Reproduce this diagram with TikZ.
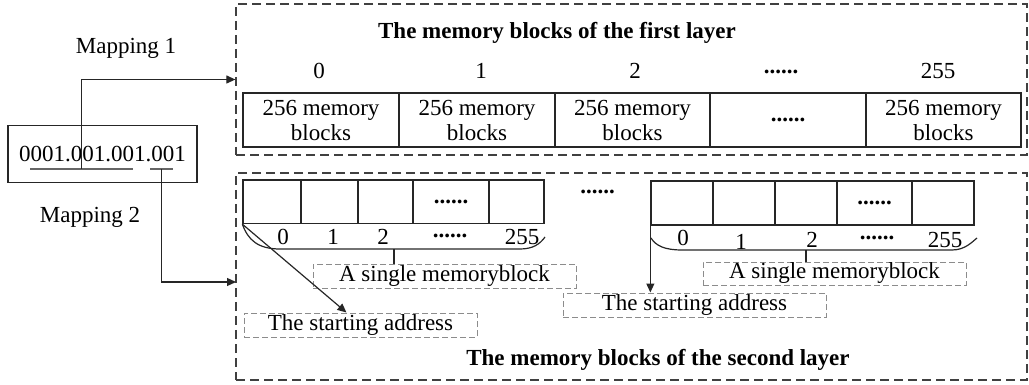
\documentclass[tikz,border=0pt]{standalone}
\usepackage{fontspec}
\setmainfont{Liberation Serif}
\newfontfamily\tms{Liberation Serif}
\usetikzlibrary{arrows.meta,calc}
\begin{document}
\begin{tikzpicture}[x=1pt,y=-1pt,
  every node/.style={font=\tms\fontsize{23}{25}\selectfont, inner sep=0pt},
  outerbox/.style={draw=black!75, line width=1.3pt, dash pattern=on 9pt off 5pt},
  cellbox/.style={draw=black!85, line width=1.3pt, align=center},
  tagbox/.style={draw=black!45, line width=1pt, dash pattern=on 6pt off 3pt},
  conn/.style={draw=black!85, line width=1.2pt, -{Triangle[length=9pt,width=8pt]}},
  plain/.style={draw=black!85, line width=1.2pt},
  uline/.style={draw=black!60, line width=1.6pt},
  titletext/.style={font=\tms\fontsize{23}{25}\selectfont\bfseries},
  dots/.style={font=\tms\fontsize{23}{25}\selectfont\bfseries},
]
\useasboundingbox (0,0) rectangle (1029,385);

% outer dashed frames
\node[outerbox, minimum width=791pt, minimum height=151pt] (layer1) at (631.5,79.5) {};
\node[outerbox, minimum width=791pt, minimum height=207pt] (layer2) at (631.5,276.5) {};

% address box
\node[draw=black!85, line width=1.2pt, minimum width=189pt, minimum height=57pt] (addr) at (102.5,154) {0001.001.001.001};
\draw[uline] (30,169) -- (133,169);
\draw[uline] (150,169) -- (173,169);
\coordinate (m1) at (81.5,169);
\coordinate (m2) at (161.5,169);
\coordinate (t2) at (236,282);
\node (map1) at (126,48) {Mapping 1};
\node (map2) at (90,217) {Mapping 2};
\draw[conn] (m1) |- (layer1.west);
\draw[conn] (m2) |- (t2);

% first layer
\node[titletext] (title1) at (557,33) {The memory blocks of the first layer};
\node[cellbox, minimum width=156pt, minimum height=54pt] (c1) at (321,120) {256 memory\\blocks};
\node[cellbox, minimum width=156pt, minimum height=54pt] (c2) at (477,120) {256 memory\\blocks};
\node[cellbox, minimum width=155pt, minimum height=54pt] (c3) at (632.5,120) {256 memory\\blocks};
\node[cellbox, minimum width=156pt, minimum height=54pt] (c4) at (788,120) {\textbf{......}};
\node[cellbox, minimum width=155pt, minimum height=54pt] (c5) at (943.5,120) {256 memory\\blocks};
\node (i1) at (319,71) {0};
\node (i2) at (481,71) {1};
\node (i3) at (635,71) {2};
\node[dots] (i4) at (781,72) {......};
\node (i5) at (938,71) {255};

% second layer, left array
\node[cellbox, minimum width=58pt, minimum height=43.5pt] (L1) at (272,201.75) {};
\node[cellbox, minimum width=57pt, minimum height=43.5pt] (L2) at (329.5,201.75) {};
\node[cellbox, minimum width=55pt, minimum height=43.5pt] (L3) at (385.5,201.75) {};
\node[cellbox, minimum width=76pt, minimum height=43.5pt] (L4) at (451,201.75) {\textbf{......}};
\node[cellbox, minimum width=55pt, minimum height=43.5pt] (L5) at (516.5,201.75) {};
\node (l1) at (283,237) {0};
\node (l2) at (333,237) {1};
\node (l3) at (383,237) {2};
\node[dots] (l4) at (450,236) {......};
\node (l5) at (522,237) {255};
\draw[plain] (L1.south west) .. controls (248,240) and (258,249) .. (280,249) -- (520,249) .. controls (533,249) and (540,244) .. (545,237);
\node[tagbox, minimum width=263pt, minimum height=24pt] (s1) at (444.5,276) {A single memoryblock};
\draw[plain] (394,249) -- (s1.north -| 394,0);
\node[tagbox, minimum width=233pt, minimum height=24pt] (a1) at (360.5,325) {The starting address};
\draw[conn] (L1.south west) -- ($(a1.north west)!0.44!(a1.north east)$);

\node[dots] (mid) at (597.5,192) {......};

% second layer, right array
\node[cellbox, minimum width=62pt, minimum height=44pt] (R1) at (682,203) {};
\node[cellbox, minimum width=62pt, minimum height=44pt] (R2) at (744,203) {};
\node[cellbox, minimum width=62pt, minimum height=44pt] (R3) at (806,203) {};
\node[cellbox, minimum width=75pt, minimum height=44pt] (R4) at (874.5,203) {\textbf{......}};
\node[cellbox, minimum width=62pt, minimum height=44pt] (R5) at (943,203) {};
\node (r1) at (683,238) {0};
\node (r2) at (741,242) {1};
\node (r3) at (812,240) {2};
\node[dots] (r4) at (877,238) {......};
\node (r5) at (945,240) {255};
\draw[plain] (651,238) .. controls (656,246) and (665,250) .. (682,250) -- (952,250) .. controls (965,250) and (972,242) .. (977,238);
\node[tagbox, minimum width=263pt, minimum height=23pt] (s2) at (834.5,273.5) {A single memoryblock};
\draw[plain] (806,250) -- (s2.north -| 806,0);
\node[tagbox, minimum width=263pt, minimum height=24pt] (a2) at (694.5,305) {The starting address};
\draw[conn] (R1.south west) -- (R1.south west |- a2.north);

\node[titletext] (title2) at (658,360) {The memory blocks of the second layer};
\end{tikzpicture}
\end{document}
